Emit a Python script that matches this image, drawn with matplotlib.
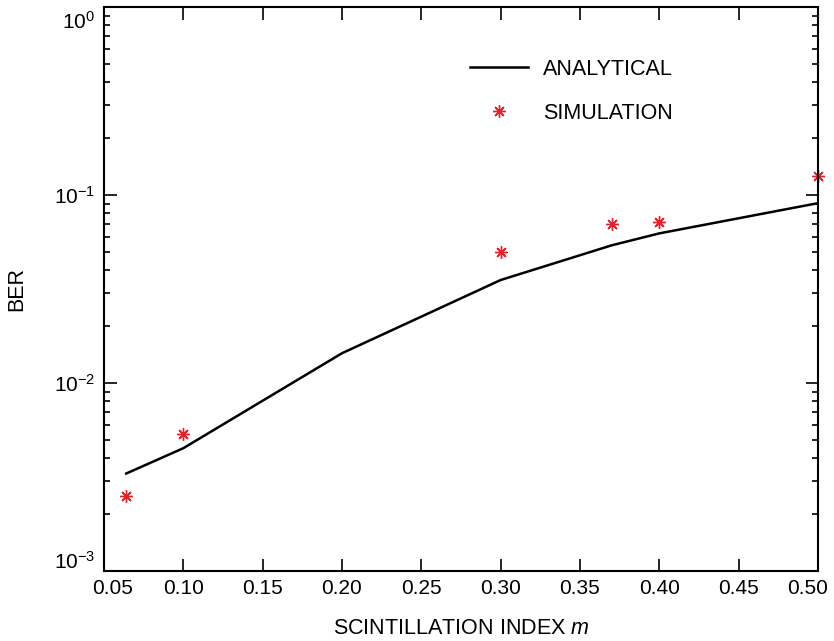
import matplotlib
matplotlib.use("Agg")
import matplotlib.pyplot as plt
from matplotlib.ticker import FixedLocator, NullLocator, LogLocator
from matplotlib.transforms import ScaledTranslation

plt.rcParams['font.family'] = ['Liberation Sans', 'DejaVu Sans']
plt.rcParams['mathtext.fontset'] = 'custom'
plt.rcParams['mathtext.rm'] = 'Liberation Sans'
plt.rcParams['mathtext.it'] = 'Liberation Sans:italic'
plt.rcParams['mathtext.default'] = 'regular'

# Data
m_analytical = [0.064, 0.10, 0.20, 0.30, 0.37, 0.40, 0.50]
ber_analytical = [3.3e-3, 4.5e-3, 1.44e-2, 3.53e-2, 5.4e-2, 6.25e-2, 9.05e-2]
m_sim = [0.064, 0.10, 0.30, 0.37, 0.40, 0.50]
ber_sim = [2.5e-3, 5.35e-3, 5.0e-2, 7.0e-2, 7.2e-2, 0.126]
xticks = [0.05, 0.10, 0.15, 0.20, 0.25, 0.30, 0.35, 0.40, 0.45, 0.50]
xtick_labels = ["0.05", "0.10", "0.15", "0.20", "0.25", "0.30", "0.35", "0.40", "0.45", "0.50"]
yticks = [1e-3, 1e-2, 1e-1, 1e0]

fig = plt.figure(figsize=(8.34, 6.41), dpi=100)
ax = fig.add_axes([104/834, 1-571/641, (818-104)/834, (571-7)/641])

ax.plot(m_analytical, ber_analytical, color='black', lw=1.8, label='ANALYTICAL')
ax.plot(m_sim, ber_sim, linestyle='none', marker=(8, 2, 0), markersize=9,
        markeredgewidth=1.0, color='#e8202a', label='SIMULATION', clip_on=False)

ax.set_yscale('log')
ax.set_xlim(0.05, 0.50)
ax.set_ylim(1e-3, 1e0)
ax.xaxis.set_major_locator(FixedLocator(xticks))
ax.set_xticklabels(xtick_labels)
ax.xaxis.set_minor_locator(NullLocator())
ax.yaxis.set_major_locator(FixedLocator(yticks))
ax.yaxis.set_minor_locator(LogLocator(base=10, subs=range(2, 10), numticks=20))

ax.tick_params(which='both', direction='in', top=True, right=True, labelsize=15, width=1.2)
ax.tick_params(which='major', length=9)
ax.tick_params(axis='x', which='major', pad=5.5)
ax.tick_params(axis='y', which='major', pad=6.5)
ax.tick_params(which='minor', length=4.5)
for s in ax.spines.values():
    s.set_linewidth(1.5)

ax.set_xlabel('SCINTILLATION INDEX $\\mathit{m}$', fontsize=15.5, labelpad=15)
ax.set_ylabel('BER', fontsize=15.5, labelpad=19)

ax.legend(loc='upper left', bbox_to_anchor=(0.4855, 0.943), frameon=False, fontsize=15.5,
          handlelength=2.7, handletextpad=0.7, labelspacing=1.09, numpoints=1)

# nudge the end tick labels inward as in the reference
xt = ax.xaxis.get_major_ticks()
xt[0].label1.set_transform(xt[0].label1.get_transform() + ScaledTranslation(9/100, 0, fig.dpi_scale_trans))
xt[-1].label1.set_transform(xt[-1].label1.get_transform() + ScaledTranslation(-10/100, 0, fig.dpi_scale_trans))
yt = ax.yaxis.get_major_ticks()
yt[0].label1.set_transform(yt[0].label1.get_transform() + ScaledTranslation(0, 11/100, fig.dpi_scale_trans))
yt[-1].label1.set_transform(yt[-1].label1.get_transform() + ScaledTranslation(0, -13/100, fig.dpi_scale_trans))

fig.savefig('out.png', dpi=100)
